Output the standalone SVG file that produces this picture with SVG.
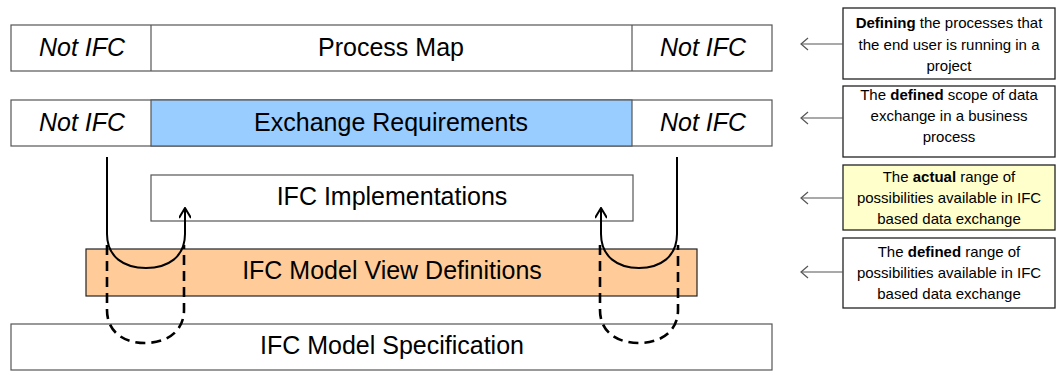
<svg xmlns="http://www.w3.org/2000/svg" width="1056" height="372" viewBox="0 0 1056 372">
<style>
.box{fill:#fff;stroke:#555;stroke-width:1.2}
.big{font-family:"Liberation Sans",Arial,sans-serif;font-size:25px;fill:#000;text-anchor:middle}
.it{font-style:italic}
.note{fill:#fff;stroke:#222;stroke-width:1.3}
.nt{font-family:"Liberation Sans",Arial,sans-serif;font-size:15px;fill:#000;text-anchor:middle}
.b{font-weight:bold}
.ptr{fill:none;stroke:#555;stroke-width:1.2}
.loop{fill:none;stroke:#000;stroke-width:2}
.dash{fill:none;stroke:#000;stroke-width:2.6;stroke-dasharray:10,6}
</style>
<defs>
<marker id="oa" viewBox="0 0 12 12" refX="11" refY="6" markerWidth="12" markerHeight="12" markerUnits="userSpaceOnUse" orient="auto">
<path d="M1,0 L11,6 L1,12" fill="none" stroke="#000" stroke-width="2"/>
</marker>
<marker id="pa" viewBox="0 0 12 14" refX="11" refY="7" markerWidth="12" markerHeight="14" markerUnits="userSpaceOnUse" orient="auto">
<path d="M4,1 L11,7 L4,13" fill="none" stroke="#555" stroke-width="1.2"/>
</marker>
</defs>

<g id="process-map">
<rect class="box" x="11" y="25" width="761" height="46"/>
<line x1="151" y1="25" x2="151" y2="71" stroke="#555" stroke-width="1.2"/>
<line x1="632" y1="25" x2="632" y2="71" stroke="#555" stroke-width="1.2"/>
<text class="big it" x="82" y="56">Not IFC</text>
<text class="big" x="391" y="56">Process Map</text>
<text class="big it" x="703" y="56">Not IFC</text>
</g>

<g id="exchange-requirements">
<rect class="box" x="11" y="100" width="761" height="46"/>
<rect x="151" y="100" width="481" height="46" fill="#99CCFF" stroke="#555" stroke-width="1.2"/>
<text class="big it" x="82" y="131">Not IFC</text>
<text class="big" x="391" y="131">Exchange Requirements</text>
<text class="big it" x="703" y="131">Not IFC</text>
</g>

<g id="ifc-implementations">
<rect class="box" x="151" y="175" width="482" height="46"/>
<text class="big" x="392" y="205">IFC Implementations</text>
</g>

<g id="ifc-mvd">
<rect x="86" y="249" width="611" height="47" fill="#FFCC99" stroke="#222" stroke-width="1.2"/>
<text class="big" x="392" y="279">IFC Model View Definitions</text>
</g>

<g id="ifc-model-spec">
<rect class="box" x="11" y="324" width="761" height="46"/>
<text class="big" x="392" y="354">IFC Model Specification</text>
</g>

<g id="note-1">
<rect class="note" x="843" y="8" width="212" height="71"/>
<text class="nt" x="949" y="28"><tspan class="b">Defining</tspan> the processes that</text>
<text class="nt" x="949" y="49.5">the end user is running in a</text>
<text class="nt" x="949" y="71">project</text>
</g>
<g id="note-2">
<rect class="note" x="843" y="86" width="212" height="71"/>
<text class="nt" x="949" y="100">The <tspan class="b">defined</tspan> scope of data</text>
<text class="nt" x="949" y="121">exchange in a business</text>
<text class="nt" x="949" y="142">process</text>
</g>
<g id="note-3">
<rect class="note" x="843" y="165" width="212" height="65" style="fill:#FFFFCC"/>
<text class="nt" x="949" y="182">The <tspan class="b">actual</tspan> range of</text>
<text class="nt" x="949" y="203">possibilities available in IFC</text>
<text class="nt" x="949" y="224">based data exchange</text>
</g>
<g id="note-4">
<rect class="note" x="843" y="238" width="212" height="70"/>
<text class="nt" x="949" y="257">The <tspan class="b">defined</tspan> range of</text>
<text class="nt" x="949" y="278">possibilities available in IFC</text>
<text class="nt" x="949" y="298.5">based data exchange</text>
</g>

<g id="connectors">
<line class="ptr" x1="843" y1="44" x2="801" y2="44" marker-end="url(#pa)"/>
<line class="ptr" x1="843" y1="118" x2="801" y2="118" marker-end="url(#pa)"/>
<line class="ptr" x1="843" y1="198" x2="801" y2="198" marker-end="url(#pa)"/>
<line class="ptr" x1="843" y1="272" x2="801" y2="272" marker-end="url(#pa)"/>

<path class="loop" d="M107,157 V234 C107,257 124,268 146,268 C168,268 185,257 185,234 V208" marker-end="url(#oa)"/>
<path class="loop" d="M677,157 V234 C677,257 660,268 639,268 C618,268 601,257 601,234 V208" marker-end="url(#oa)"/>

<path class="dash" d="M107,245 V310 C107,332 124,343 145,343 C166,343 184,332 184,310 V245"/>
<path class="dash" d="M600,245 V310 C600,332 617,343 639,343 C660,343 678,332 678,310 V245"/>
</g>
</svg>
